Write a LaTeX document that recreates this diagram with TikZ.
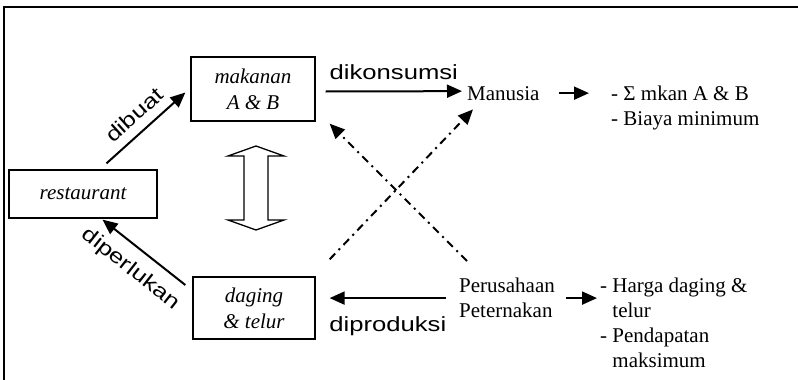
\documentclass[tikz,border=0pt]{standalone}
\usepackage{fontspec}
\setmainfont{Liberation Serif}
\newfontfamily\labelfont[FakeStretch=1.25]{Liberation Sans}
\usetikzlibrary{calc,arrows.meta}

\begin{document}
\begin{tikzpicture}[x=1pt,y=-1pt,
  box/.style={draw,line width=1.3pt,inner sep=0,align=center,font=\fontsize{21}{26}\selectfont\itshape},
  txt/.style={inner sep=0,align=left,font=\fontsize{21}{25}\selectfont},
  lbl/.style={inner sep=0,font=\fontsize{20.5}{24}\labelfont},
  arr/.style={line width=2pt,-{Triangle[length=15pt,width=13pt]}},
  dashdot/.style={arr,dash pattern=on 8pt off 5pt on 2pt off 5pt}]
\useasboundingbox (0,0) rectangle (798,380);
\draw[line width=2pt] (4,7) rectangle (810,390);

\node[box,minimum width=148,minimum height=48] (restaurant) at (83,194) {restaurant};
\node[box,minimum width=124,minimum height=64] (makanan) at (253,89) {makanan\\A \& B};
\node[box,minimum width=122,minimum height=62] (daging) at (254,308) {daging\\\& telur};
\node[txt,anchor=base west] (manusia) at (467,100) {Manusia};
\node[txt,anchor=north west] (hasil) at (611,86) {- Σ mkan A \& B\\- Biaya minimum};
\node[txt,anchor=north west] (perusahaan) at (459,278) {Perusahaan\\Peternakan};
\node[txt,anchor=north west] (harga) at (600,278) {- Harga daging \&\\\hphantom{- }telur\\- Pendapatan\\\hphantom{- }maksimum};

% hollow double arrow between the two boxes
\draw[line width=1.3pt,shift={(256,188)}] (0,-42) -- (28,-32) -- (12,-32) -- (12,32) -- (28,32) -- (0,42)
  -- (-28,32) -- (-12,32) -- (-12,-32) -- (-28,-32) -- cycle;

\draw[arr] ([xshift=23.5pt,yshift=6pt]restaurant.north) -- node[lbl,sloped,above=9pt] {dibuat} ([xshift=-5pt,yshift=-3.5pt]makanan.west);
\draw[arr] ([xshift=-7pt,yshift=23pt]daging.west) -- node[lbl,sloped,below=11pt] {diperlukan} ([xshift=19.5pt,yshift=-1pt]restaurant.south);
\draw[arr] ([xshift=10pt,yshift=-2.5pt]makanan.east) -- node[lbl,above=11pt] {dikonsumsi} ([xshift=-5pt,yshift=2pt]manusia.west);
\draw[arr] ([xshift=19pt]manusia.east) -- ([xshift=-22pt]manusia.east -| hasil.west);
\draw[arr] ([xshift=-13pt]perusahaan.west) -- node[lbl,below=18pt] {diproduksi} ([xshift=14pt]perusahaan.west -| daging.east);
\draw[arr] ([xshift=11pt]perusahaan.east) -- ([xshift=-3pt]perusahaan.east -| harga.west);

\draw[dashdot] ([xshift=14pt,yshift=17pt]daging.north east) -- ([xshift=6pt,yshift=-9pt]manusia.south west);
\draw[dashdot] ([xshift=8pt,yshift=17pt]perusahaan.north west) -- ([xshift=14pt,yshift=-2pt]makanan.south east);
\end{tikzpicture}
\end{document}
